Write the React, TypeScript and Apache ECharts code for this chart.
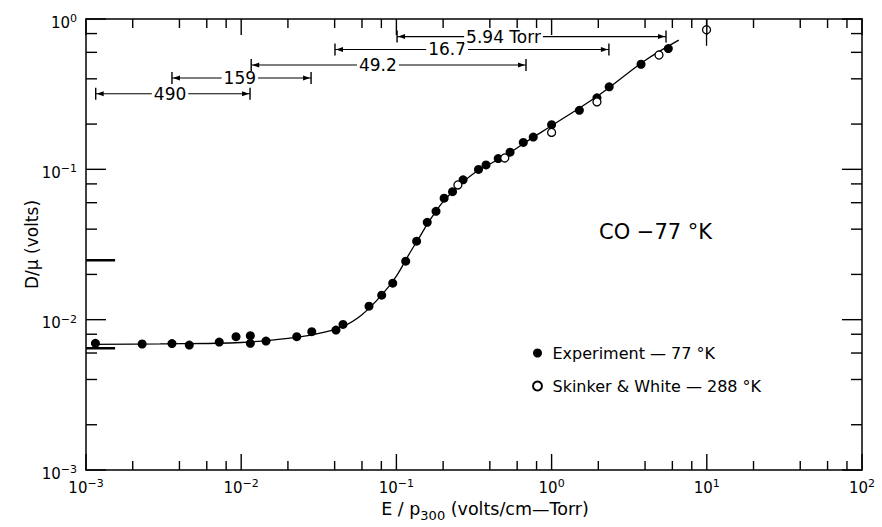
import React, { useEffect, useRef } from "react";
import * as echarts from "echarts";

const FONT = '"DejaVu Sans", "Liberation Sans", sans-serif';

// Experiment — 77 °K (filled circles): [E/p300, D/mu]
const experiment: [number, number][] = [
  [0.00115, 0.00696], [0.0023, 0.00689], [0.00358, 0.00693], [0.00463, 0.00678],
  [0.00722, 0.0071], [0.00926, 0.00771], [0.01145, 0.00783], [0.01145, 0.00696],
  [0.01445, 0.00721], [0.0228, 0.00771], [0.0285, 0.00832], [0.0408, 0.00853],
  [0.0453, 0.0093], [0.0666, 0.0123], [0.0804, 0.01456], [0.0947, 0.0175],
  [0.1148, 0.0245], [0.135, 0.0333], [0.158, 0.0444], [0.18, 0.0526],
  [0.203, 0.0643], [0.23, 0.071], [0.269, 0.0851], [0.338, 0.0998],
  [0.378, 0.107], [0.453, 0.118], [0.54, 0.13], [0.657, 0.151],
  [0.762, 0.164], [1.0, 0.198], [1.51, 0.247], [1.96, 0.299],
  [2.35, 0.354], [3.77, 0.5], [5.65, 0.636],
];

// Skinker & White — 288 °K (open circles)
const skinkerWhite: [number, number][] = [
  [0.249, 0.0787], [0.499, 0.119], [1.0, 0.176], [1.96, 0.281],
  [4.92, 0.576], [9.96, 0.848],
];

// error bar of the last Skinker & White point
const errorBar: [number, number][] = [[9.96, 0.664], [9.96, 1.0]];

// fitted curve
const fitCurve: [number, number][] = [
  [0.0011, 0.00685], [0.003, 0.0069], [0.01, 0.00705], [0.02, 0.0075],
  [0.03, 0.008], [0.045, 0.009], [0.06, 0.0108], [0.08, 0.0145],
  [0.1, 0.0195], [0.12, 0.027], [0.14, 0.035], [0.16, 0.044],
  [0.2, 0.061], [0.25, 0.077], [0.33, 0.097], [0.5, 0.123],
  [0.75, 0.162], [1.0, 0.195], [2.0, 0.31], [4.0, 0.53], [6.6, 0.724],
];

// short horizontal marks at the left axis
const leftMarkLevels = [0.0248, 0.00645];
const leftMarkFrom = 0.001;
const leftMarkTo = 0.00154;

// pressure ranges (Torr)
const rangeLabels = ["490", "159", "49.2", "16.7", "5.94 Torr"];
const rangeFrom = [0.001155, 0.00358, 0.0116, 0.0402, 0.101];
const rangeTo = [0.0114, 0.0282, 0.684, 2.34, 5.46];
const rangeLevel = [0.318, 0.405, 0.494, 0.627, 0.764];
const rangeLabelAt = [0.00348, 0.0098, 0.076, 0.212, 0.49];

// axes
const xMin = 0.001;
const xMax = 100;
const yMin = 0.001;
const yMax = 1;
const xDecades = [0.001, 0.01, 0.1, 1, 10];
const yDecades = [0.001, 0.01, 0.1];
const minorMultipliers = [2, 4, 6, 8];

const xMinorTicks = xDecades.flatMap((d) => minorMultipliers.map((m) => d * m));
const yMinorTicks = yDecades.flatMap((d) => minorMultipliers.map((m) => d * m));
const xMajorTicks = [...xDecades, 100];
const yMajorTicks = [...yDecades, 1];

const expName = "Experiment — 77 °K";
const swName = "Skinker & White — 288 °K";

const powFormatter = (v: number) => {
  const e = Math.round(Math.log10(v));
  const s = e < 0 ? "−" + -e : String(e);
  return `{b|10}{s|${s}}`;
};

const powRich = {
  b: { fontSize: 15, fontFamily: FONT, color: "#000", lineHeight: 17, verticalAlign: "bottom" },
  s: { fontSize: 11, fontFamily: FONT, color: "#000", lineHeight: 12, verticalAlign: "top" },
};

// tick table: [axis (0 = x, 1 = y), value, length]
const tickRows: number[][] = [
  ...xMinorTicks.map((v) => [0, v, 9]),
  ...xMajorTicks.map((v) => [0, v, 16]),
  ...yMinorTicks.map((v) => [1, v, 11]),
  ...yMajorTicks.map((v) => [1, v, 20]),
];

export default function App() {
  const ref = useRef<HTMLDivElement>(null);

  useEffect(() => {
    if (!ref.current) return;
    const chart = echarts.init(ref.current, null, { renderer: "svg" });

    const axisLine = { show: true, lineStyle: { color: "#000", width: 1.5 } };
    const baseAxis = {
      type: "log",
      logBase: 10,
      axisLine,
      axisTick: { show: false },
      splitLine: { show: false },
    };

    const option: any = {
      animation: false,
      backgroundColor: "#fff",
      grid: { left: 86, right: 20, top: 19, bottom: 56 },
      legend: {
        data: [{ name: expName }, { name: swName }],
        orient: "vertical",
        left: 527,
        top: 340,
        itemWidth: 20,
        itemHeight: 9,
        itemGap: 17,
        textStyle: { fontSize: 16, color: "#000", fontFamily: FONT },
        selectedMode: false,
      },
      xAxis: [
        {
          ...baseAxis,
          min: xMin,
          max: xMax,
          position: "bottom",
          axisLabel: { formatter: powFormatter, rich: powRich, margin: 8, color: "#000" },
          name: "{n|E / p}{sub|300}{n| (volts/cm—Torr)}",
          nameLocation: "middle",
          nameGap: 30,
          nameMoveOverlap: false,
          nameTextStyle: {
            padding: [0, 0, 0, 22],
            rich: {
              n: { fontSize: 17.5, fontFamily: FONT, color: "#000", lineHeight: 19, verticalAlign: "top" },
              sub: { fontSize: 13, fontFamily: FONT, color: "#000", lineHeight: 13, padding: [9, 0, 0, 0], verticalAlign: "top" },
            },
          },
        },
        {
          ...baseAxis,
          min: xMin,
          max: xMax,
          position: "top",
          axisLabel: { show: false },
        },
      ],
      yAxis: [
        {
          ...baseAxis,
          min: yMin,
          max: yMax,
          position: "left",
          axisLabel: { formatter: powFormatter, rich: powRich, margin: 9, color: "#000", padding: [5, 0, 0, 0] },
          name: "D/μ (volts)",
          nameLocation: "middle",
          nameGap: 46,
          nameMoveOverlap: false,
          nameTextStyle: { fontSize: 17, fontFamily: FONT, color: "#000" },
        },
        {
          ...baseAxis,
          min: yMin,
          max: yMax,
          position: "right",
          axisLabel: { show: false },
        },
      ],
      graphic: [
        {
          type: "text",
          x: 599,
          y: 232,
          style: { text: "CO −77 °K", font: `21px ${FONT}`, fill: "#000", verticalAlign: "middle" },
        },
      ],
      series: [
        // ticks on all four sides (inside), drawn through the axes' scales
        {
          type: "custom",
          silent: true,
          xAxisIndex: 0,
          yAxisIndex: 0,
          clip: false,
          z: 10,
          dimensions: ["axis", "value", "len"],
          encode: { x: 1, y: 1 },
          data: tickRows,
          renderItem: (params: any, api: any) => {
            const cs = params.coordSys;
            const axis = api.value(0);
            const v = api.value(1);
            const len = api.value(2);
            const st = { stroke: "#000", lineWidth: 1.4 };
            if (axis === 0) {
              const x = api.coord([v, 0.01])[0];
              return {
                type: "group",
                children: [
                  { type: "line", shape: { x1: x, y1: cs.y + cs.height, x2: x, y2: cs.y + cs.height - len }, style: { ...st } },
                  { type: "line", shape: { x1: x, y1: cs.y, x2: x, y2: cs.y + len }, style: { ...st } },
                ],
              };
            }
            const y = api.coord([1, v])[1];
            return {
              type: "group",
              children: [
                { type: "line", shape: { x1: cs.x, y1: y, x2: cs.x + len, y2: y }, style: { ...st } },
                { type: "line", shape: { x1: cs.x + cs.width, y1: y, x2: cs.x + cs.width - len, y2: y }, style: { ...st } },
              ],
            };
          },
        },
        // pressure range brackets
        {
          type: "custom",
          silent: true,
          xAxisIndex: 0,
          yAxisIndex: 0,
          encode: { x: [0, 1, 3], y: 2 },
          data: rangeFrom.map((f, i) => [f, rangeTo[i], rangeLevel[i], rangeLabelAt[i]]),
          renderItem: (params: any, api: any) => {
            const lvl = api.value(2);
            const p1 = api.coord([api.value(0), lvl]);
            const p2 = api.coord([api.value(1), lvl]);
            const pl = api.coord([api.value(3), lvl]);
            const st = { stroke: "#000", lineWidth: 1.1 };
            return {
              type: "group",
              children: [
                { type: "line", shape: { x1: p1[0], y1: p1[1], x2: p2[0], y2: p2[1] }, style: st },
                { type: "line", shape: { x1: p1[0], y1: p1[1] - 6, x2: p1[0], y2: p1[1] + 6 }, style: { stroke: "#000", lineWidth: 1.4 } },
                { type: "line", shape: { x1: p2[0], y1: p2[1] - 6, x2: p2[0], y2: p2[1] + 6 }, style: { stroke: "#000", lineWidth: 1.4 } },
                { type: "polygon", shape: { points: [[p1[0] + 1, p1[1]], [p1[0] + 8, p1[1] - 2.5], [p1[0] + 8, p1[1] + 2.5]] }, style: { fill: "#000" } },
                { type: "polygon", shape: { points: [[p2[0] - 1, p2[1]], [p2[0] - 8, p2[1] - 2.5], [p2[0] - 8, p2[1] + 2.5]] }, style: { fill: "#000" } },
                {
                  type: "text",
                  x: pl[0],
                  y: pl[1],
                  style: {
                    text: rangeLabels[params.dataIndex],
                    font: `17px ${FONT}`,
                    fill: "#000",
                    align: "center",
                    verticalAlign: "middle",
                    backgroundColor: "#fff",
                    lineHeight: 13,
                    padding: [0, 2],
                  },
                },
              ],
            };
          },
        },
        // left axis marks
        ...leftMarkLevels.map((lv) => ({
          type: "line",
          silent: true,
          xAxisIndex: 0,
          yAxisIndex: 0,
          symbol: "none",
          data: [[leftMarkFrom, lv], [leftMarkTo, lv]],
          lineStyle: { color: "#000", width: 2.5 },
          z: 3,
        })),
        {
          name: "fit",
          type: "line",
          silent: true,
          xAxisIndex: 0,
          yAxisIndex: 0,
          symbol: "none",
          smooth: 0.35,
          data: fitCurve,
          lineStyle: { color: "#000", width: 1.3 },
          z: 3,
        },
        {
          name: "errorBar",
          type: "line",
          silent: true,
          xAxisIndex: 0,
          yAxisIndex: 0,
          symbol: "none",
          data: errorBar,
          lineStyle: { color: "#000", width: 1.3 },
          z: 3,
        },
        {
          name: expName,
          type: "scatter",
          xAxisIndex: 0,
          yAxisIndex: 0,
          symbol: "circle",
          symbolSize: 9,
          data: experiment,
          itemStyle: { color: "#000", opacity: 1 },
          z: 4,
        },
        {
          name: swName,
          type: "scatter",
          xAxisIndex: 0,
          yAxisIndex: 0,
          symbol: "circle",
          symbolSize: 8,
          data: skinkerWhite,
          itemStyle: { color: "#fff", borderColor: "#000", borderWidth: 1.3, opacity: 1 },
          z: 5,
        },
      ],
    };

    chart.setOption(option);
    return () => chart.dispose();
  }, []);

  return <div ref={ref} style={{ width: 882, height: 527, position: "absolute", left: 0, top: 0 }} />;
}
